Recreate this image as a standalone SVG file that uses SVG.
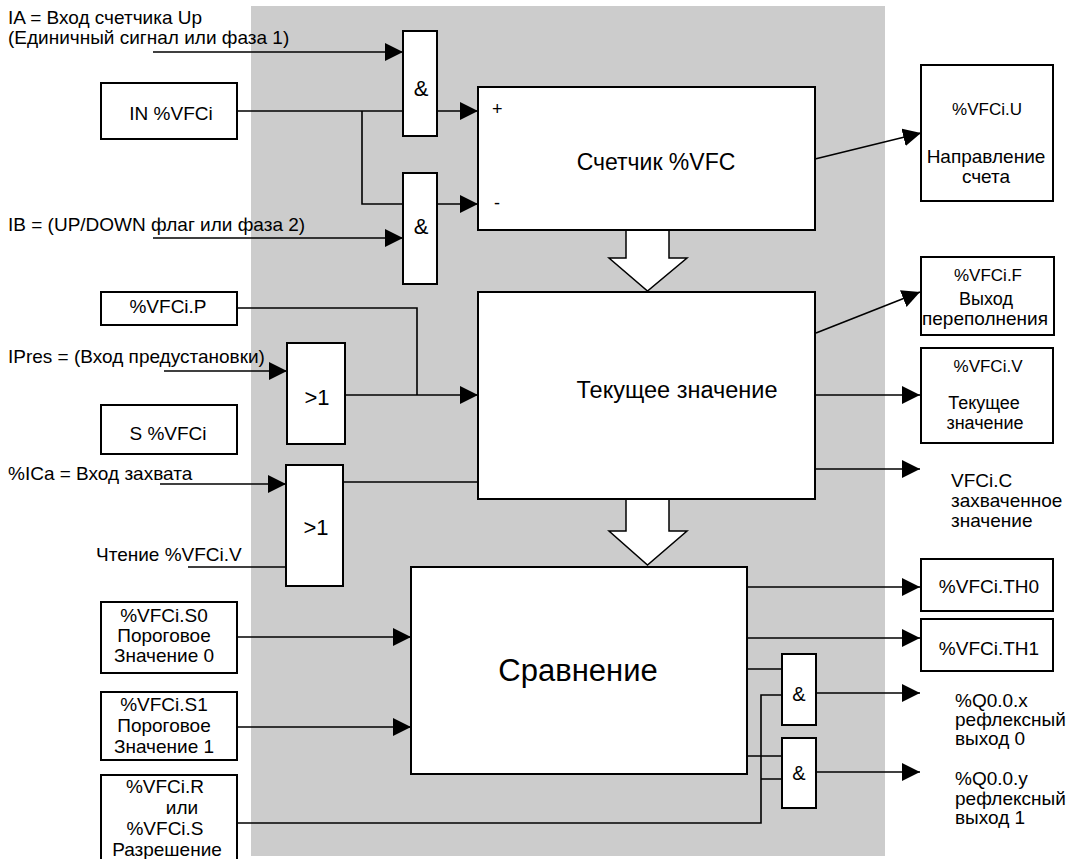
<svg xmlns="http://www.w3.org/2000/svg" width="1072" height="859" viewBox="0 0 1072 859">
<style>
text{font-family:"Liberation Sans",Arial,sans-serif;fill:#000}
.box{fill:#fff;stroke:#000;stroke-width:2}
.ln{fill:none;stroke:#000;stroke-width:1.6}
.a{marker-end:url(#ah)}
.hollow{fill:#fff;stroke:#000;stroke-width:1.5}
.s19{font-size:19px}
.s18{font-size:18px}
.s17{font-size:17px}
.s16{font-size:16px}
.mid{text-anchor:middle}
</style>
<defs>
<marker id="ah" markerUnits="userSpaceOnUse" markerWidth="18" markerHeight="18" refX="18" refY="9" orient="auto" viewBox="0 0 18 18"><path d="M0,0 L18,9 L0,18 z" fill="#000"/></marker>
</defs>
<rect id="background" x="251" y="6" width="634" height="850" fill="#cccccc"/>

<g id="connectors">
<path class="ln a" d="M153,52 H403"/>
<path class="ln" d="M237,111 H403 M362,111 V204 H403"/>
<path class="ln a" d="M437,111 H478"/>
<path class="ln a" d="M437,204 H478"/>
<path class="ln a" d="M153,238 H403"/>
<path class="ln a" d="M815,159 L921,133"/>
<path class="ln" d="M237,308 H417 V395 M345,395 H417"/>
<path class="ln a" d="M417,395 H478"/>
<path class="ln a" d="M164,371 H287"/>
<path class="ln a" d="M160,484 H286"/>
<path class="ln" d="M188,567 H287"/>
<path class="ln" d="M343,482 H478"/>
<path class="ln a" d="M816,333 L920,292"/>
<path class="ln a" d="M816,395 H920"/>
<path class="ln a" d="M816,469 H920"/>
<path class="ln a" d="M237,637 H411"/>
<path class="ln a" d="M237,727 H411"/>
<path class="ln" d="M237,823 H761 V695 H782 M761,779 H782"/>
<path class="ln a" d="M747,587 H920"/>
<path class="ln a" d="M747,638 H920"/>
<path class="ln" d="M747,669 H782 M747,756 H782"/>
<path class="ln a" d="M816,693 H920"/>
<path class="ln a" d="M816,772 H920"/>
<path class="hollow" d="M626,230 V258 H609 L647.5,291 L687,258 H669 V230"/>
<path class="hollow" d="M626,499 V531 H609 L647.5,565 L687,531 H669 V499"/>
</g>

<g id="label-ia">
<text class="s19" x="8" y="24">IA = Вход счетчика Up</text>
<text class="s19" x="8" y="44">(Единичный сигнал или фаза 1)</text>
</g>
<g id="label-ib"><text class="s19" x="8" y="231">IB = (UP/DOWN флаг или фаза 2)</text></g>
<g id="label-ipres"><text class="s19" x="8" y="363">IPres = (Вход предустановки)</text></g>
<g id="label-ica"><text class="s19" x="8" y="480">%ICa = Вход захвата</text></g>
<g id="label-read"><text class="s19" x="96" y="561">Чтение %VFCi.V</text></g>

<g id="in-vfci"><rect class="box" x="101" y="83" width="136" height="56"/><text class="s19 mid" x="171" y="120">IN %VFCi</text></g>
<g id="and1"><rect class="box" x="403" y="31" width="34" height="105"/><text class="mid" font-size="22" x="421" y="96">&amp;</text></g>
<g id="and2"><rect class="box" x="403" y="173" width="34" height="111"/><text class="mid" font-size="22" x="421" y="234">&amp;</text></g>
<g id="counter"><rect class="box" x="478" y="87" width="337" height="143"/>
<text font-size="18" x="492" y="115">+</text><text font-size="18" x="494" y="209">-</text>
<text class="mid" font-size="23" x="656" y="170">Счетчик %VFC</text></g>
<g id="vfci-u"><rect class="box" x="921" y="65" width="132" height="136"/>
<text class="s17 mid" x="987" y="115">%VFCi.U</text>
<text class="s19 mid" x="986" y="163">Направление</text>
<text class="s19 mid" x="986" y="183">счета</text></g>

<g id="vfci-p"><rect class="box" x="101" y="292" width="136" height="33"/><text class="s19 mid" x="168" y="313">%VFCi.P</text></g>
<g id="or1"><rect class="box" x="287" y="343" width="58" height="101"/><text class="mid" font-size="22" x="317" y="405">&gt;1</text></g>
<g id="s-vfci"><rect class="box" x="101" y="405" width="136" height="49"/><text class="s19 mid" x="168" y="440">S %VFCi</text></g>
<g id="or2"><rect class="box" x="286" y="465" width="57" height="121"/><text class="mid" font-size="22" x="316" y="535">&gt;1</text></g>

<g id="current"><rect class="box" x="478" y="292" width="337" height="207"/>
<text class="mid" font-size="23.5" x="677" y="398">Текущее значение</text></g>
<g id="vfci-f"><rect class="box" x="921" y="257" width="133" height="78"/>
<text class="s17 mid" x="988" y="281">%VFCi.F</text>
<text class="s18 mid" x="986" y="305">Выход</text>
<text class="s19 mid" x="985" y="325">переполнения</text></g>
<g id="vfci-v"><rect class="box" x="921" y="348" width="132" height="95"/>
<text class="s17 mid" x="988" y="372">%VFCi.V</text>
<text class="s18 mid" x="984" y="409">Текущее</text>
<text class="s18 mid" x="985" y="429">значение</text></g>
<g id="vfci-c">
<text class="s19" x="951" y="487">VFCi.C</text>
<text class="s19" x="951" y="507">захваченное</text>
<text class="s19" x="951" y="527">значение</text></g>

<g id="compare"><rect class="box" x="411" y="567" width="336" height="207"/>
<text class="mid" font-size="31" x="578" y="681">Сравнение</text></g>
<g id="vfci-s0"><rect class="box" x="101" y="602" width="136" height="71"/>
<text class="s19 mid" x="164" y="622">%VFCi.S0</text>
<text class="s19 mid" x="164" y="642">Пороговое</text>
<text class="s19 mid" x="164" y="662">Значение 0</text></g>
<g id="vfci-s1"><rect class="box" x="101" y="692" width="136" height="68"/>
<text class="s19 mid" x="164" y="711">%VFCi.S1</text>
<text class="s19 mid" x="164" y="732">Пороговое</text>
<text class="s19 mid" x="164" y="753">Значение 1</text></g>
<g id="vfci-r"><rect class="box" x="101" y="775" width="136" height="100"/>
<text class="s19 mid" x="165" y="793">%VFCi.R</text>
<text class="s19 mid" x="182" y="814">или</text>
<text class="s19 mid" x="165" y="835">%VFCi.S</text>
<text class="s19 mid" x="167" y="856">Разрешение</text></g>
<g id="vfci-th0"><rect class="box" x="921" y="559" width="132" height="52"/><text class="s19 mid" x="989" y="593">%VFCi.TH0</text></g>
<g id="vfci-th1"><rect class="box" x="921" y="619" width="132" height="52"/><text class="s19 mid" x="989" y="655">%VFCi.TH1</text></g>
<g id="and3"><rect class="box" x="782" y="654" width="34" height="71"/><text class="mid" font-size="20" x="799" y="701">&amp;</text></g>
<g id="and4"><rect class="box" x="782" y="738" width="34" height="70"/><text class="mid" font-size="20" x="799" y="780">&amp;</text></g>
<g id="q0x">
<text class="s19" x="955" y="707">%Q0.0.x</text>
<text class="s19" x="955" y="726">рефлексный</text>
<text class="s19" x="955" y="745">выход 0</text></g>
<g id="q0y">
<text class="s19" x="955" y="785">%Q0.0.y</text>
<text class="s19" x="955" y="805">рефлексный</text>
<text class="s19" x="955" y="824">выход 1</text></g>
</svg>
